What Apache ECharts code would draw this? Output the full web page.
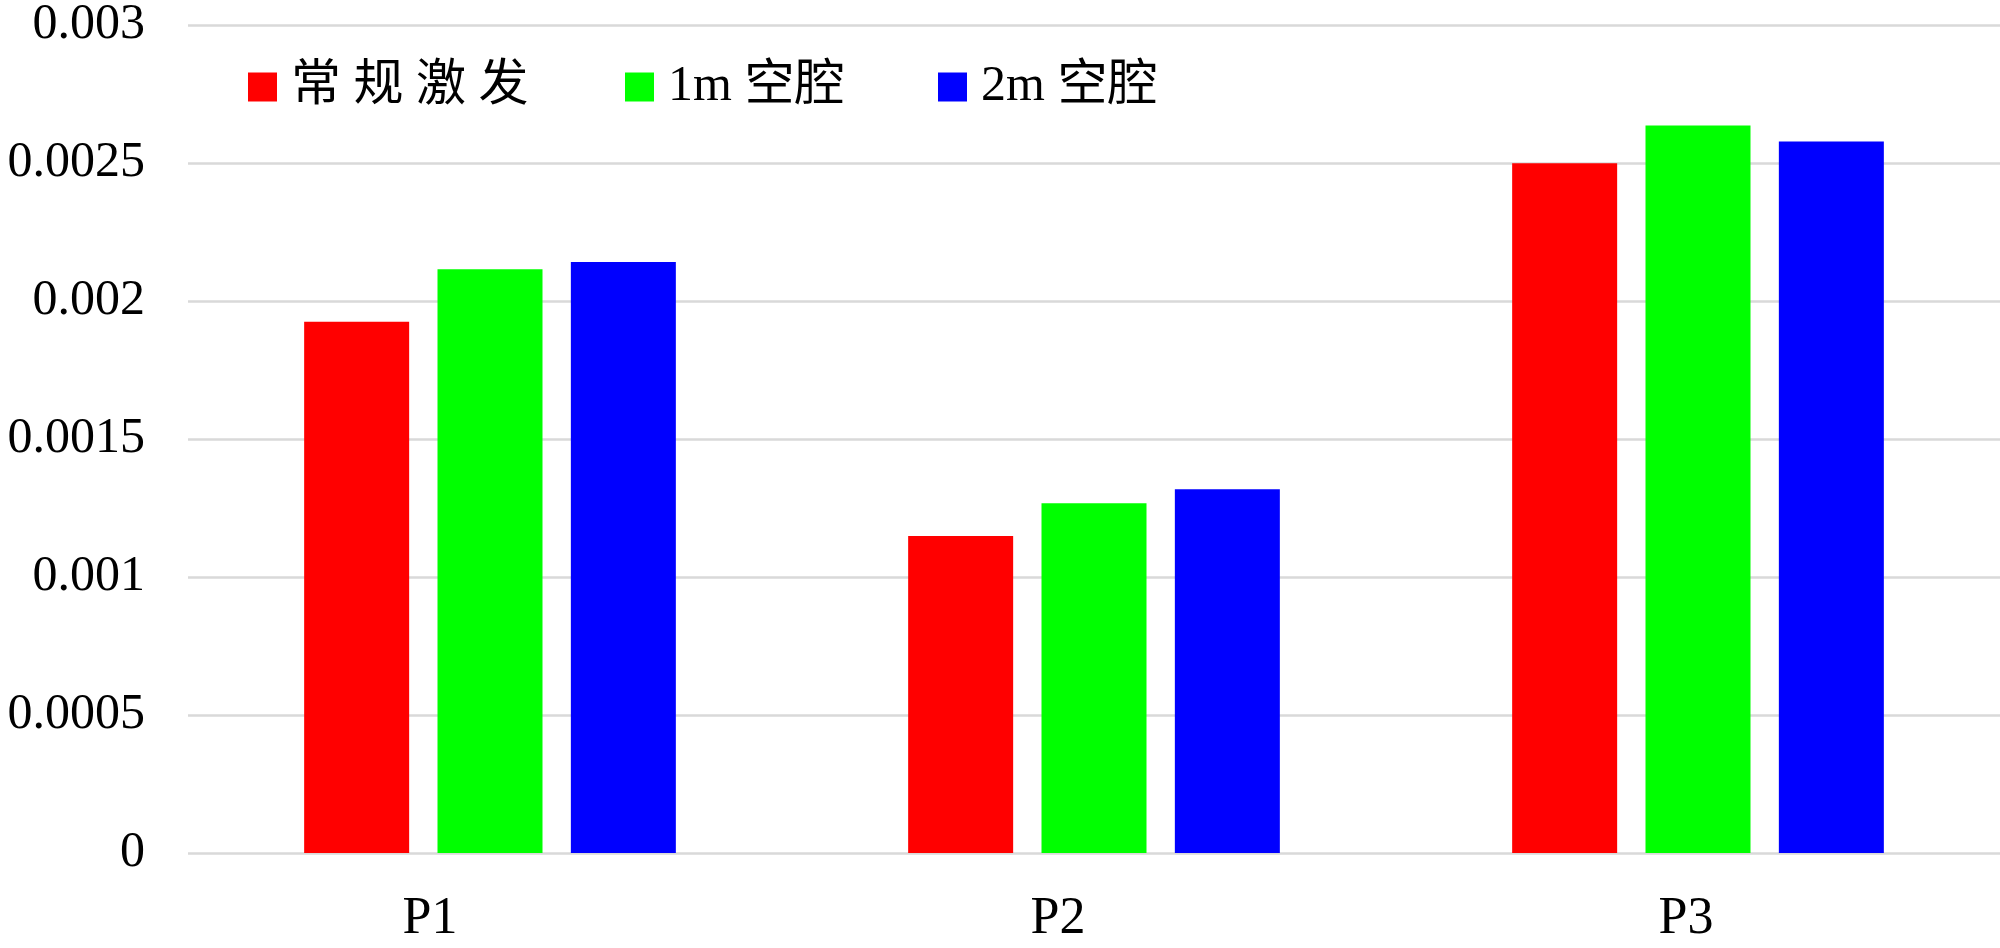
<!DOCTYPE html>
<html>
<head>
<meta charset="utf-8">
<script src="https://cdn.jsdelivr.net/npm/echarts@6/dist/echarts.min.js"></script>
<style>
  html, body { margin: 0; padding: 0; background: #fff; }
  #main { width: 2000px; height: 948px; }
</style>
</head>
<body>
<div id="main"></div>
<script>
var categories = ['P1', 'P2', 'P3'];
var seriesNames = ['常规激发', '1m 空腔', '2m 空腔'];
var normalValues = [0.001925, 0.001149, 0.002499];
var cavity1mValues = [0.002115, 0.001267, 0.002636];
var cavity2mValues = [0.002141, 0.001318, 0.002578];
var seriesColors = ['#ff0000', '#00ff00', '#0000ff'];

var fontFamily = "'Liberation Serif', 'Noto Sans CJK SC', serif";

var chart = echarts.init(document.getElementById('main'), null, { renderer: 'canvas' });

// legend items are placed one by one, like the original
var legendLeft = [243, 620, 933];
var legends = seriesNames.map(function (n, i) {
  return {
    data: [n],
    left: legendLeft[i],
    top: 57,
    icon: 'rect',
    itemWidth: 29,
    itemHeight: 29,
    textStyle: {
      fontFamily: fontFamily,
      fontSize: 50,
      color: '#000',
      padding: [0, 0, 0, 9]
    },
    formatter: function (name) {
      // the first label is spaced out in the original
      return name === '常规激发' ? name.split('').join(' ') : name;
    }
  };
});

var allValues = [normalValues, cavity1mValues, cavity2mValues];

var option = {
  backgroundColor: '#fff',
  animation: false,
  legend: legends,
  grid: [
    { left: 188, top: 23, width: 1817, height: 830 },
    // only used to place category labels
    { left: 116, top: 23, width: 1899, height: 830 }
  ],
  xAxis: [
    {
      type: 'category',
      gridIndex: 0,
      data: categories,
      axisLine: { show: false },
      axisTick: { show: false },
      axisLabel: { show: false }
    },
    {
      type: 'category',
      gridIndex: 1,
      data: categories,
      axisLine: { show: false },
      axisTick: { show: false },
      axisLabel: {
        margin: 40,
        fontFamily: fontFamily,
        fontSize: 52,
        color: '#000'
      }
    }
  ],
  yAxis: [
    {
      type: 'value',
      gridIndex: 0,
      min: 0,
      max: 0.003,
      interval: 0.0005,
      axisLine: { show: false },
      axisTick: { show: false },
      axisLabel: {
        margin: 43,
        fontFamily: fontFamily,
        fontSize: 50,
        color: '#000',
        formatter: function (v) { return String(+v.toFixed(4)); }
      },
      splitLine: { lineStyle: { color: '#d9d9d9', width: 2.5 } }
    },
    {
      type: 'value',
      gridIndex: 1,
      min: 0,
      max: 0.003,
      show: false
    }
  ],
  series: seriesNames.map(function (n, i) {
    return {
      name: n,
      type: 'bar',
      xAxisIndex: 0,
      yAxisIndex: 0,
      barWidth: 105,
      barGap: '27%',
      itemStyle: { color: seriesColors[i] },
      data: allValues[i]
    };
  })
};

chart.setOption(option);
</script>
</body>
</html>
